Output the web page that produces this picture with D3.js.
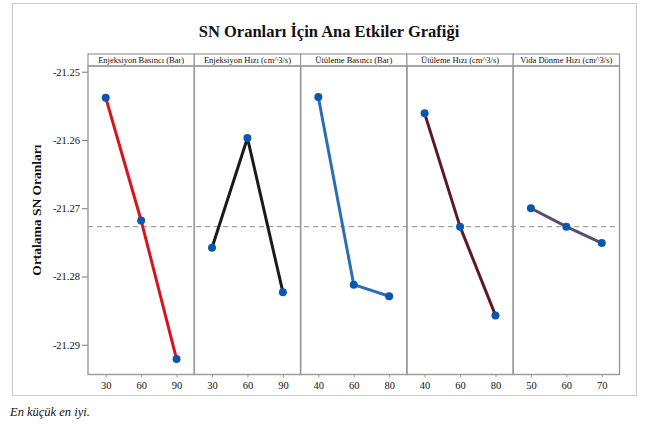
<!DOCTYPE html>
<html>
<head>
<meta charset="utf-8">
<script src="https://cdn.jsdelivr.net/npm/d3@7"></script>
<style>
  html, body { margin: 0; padding: 0; background: #fff; }
  svg { display: block; }
  text { font-family: "Liberation Serif", "Times New Roman", serif; fill: #111; }
</style>
</head>
<body>
<svg id="chart" width="646" height="426"></svg>
<script>
// Main effects plot for S/N ratios (smaller is better)
const factors = [
  "Enjeksiyon Basıncı (Bar)",
  "Enjeksiyon Hızı (cm^3/s)",
  "Ütüleme Basıncı (Bar)",
  "Ütüleme Hızı (cm^3/s)",
  "Vida Dönme Hızı (cm^3/s)"
];
const levels = [
  ["30", "60", "90"],
  ["30", "60", "90"],
  ["40", "60", "80"],
  ["40", "60", "80"],
  ["50", "60", "70"]
];
const snMeans = [
  [-21.2538, -21.2718, -21.2921],
  [-21.2758, -21.2597, -21.2823],
  [-21.2537, -21.2812, -21.2829],
  [-21.2561, -21.2727, -21.2857],
  [-21.2700, -21.2727, -21.2751]
];
const grandMean = -21.2727;
const yTicks = [-21.25, -21.26, -21.27, -21.28, -21.29];
const lineColors = ["#d8141b", "#1b1b1b", "#2c6db8", "#5e1a22", "#5a4c6c"];
const pointColor = "#0b57ad";

const svg = d3.select("#chart");

// outer frame
svg.append("rect")
  .attr("x", 12.5).attr("y", 3.5).attr("width", 624).attr("height", 392)
  .attr("fill", "none").attr("stroke", "#c8c8c8").attr("stroke-width", 1);

// title
svg.append("text")
  .attr("x", 329).attr("y", 37)
  .attr("text-anchor", "middle")
  .style("font-size", "16.5px").style("font-weight", "bold")
  .text("SN Oranları İçin Ana Etkiler Grafiği");

const plotLeft = 88, plotRight = 619.5;
const plotTop = 66, plotBottom = 374.5, headerTop = 54;

const y = d3.scaleLinear()
  .domain([-21.29436, -21.24916])
  .range([plotBottom, plotTop]);

const panel = d3.scaleBand()
  .domain(d3.range(factors.length))
  .range([plotLeft, plotRight])
  .paddingInner(0).paddingOuter(0);

const pw = panel.bandwidth();

// y axis
const yAxis = svg.append("g")
  .attr("transform", `translate(${plotLeft},0)`)
  .call(d3.axisLeft(y).tickValues(yTicks).tickSize(6).tickPadding(2)
    .tickFormat(d => d.toFixed(2)));
yAxis.attr("font-family", null);
yAxis.select(".domain").remove();
yAxis.selectAll(".tick line").attr("stroke", "#777");
yAxis.selectAll(".tick text")
  .style("font-family", "'Liberation Serif', serif")
  .style("font-size", "10.5px").attr("fill", "#222");

// y axis title
svg.append("text")
  .attr("transform", `translate(41,210) rotate(-90)`)
  .attr("text-anchor", "middle")
  .style("font-size", "13.5px").style("font-weight", "bold")
  .text("Ortalama SN Oranları");

// grand mean reference line across all panels
svg.append("line")
  .attr("x1", plotLeft).attr("x2", plotRight)
  .attr("y1", y(grandMean)).attr("y2", y(grandMean))
  .attr("stroke", "#8c8c8c").attr("stroke-width", 1)
  .attr("stroke-dasharray", "5,4");

factors.forEach((name, i) => {
  const x0 = panel(i);
  const g = svg.append("g").attr("transform", `translate(${x0},0)`);

  const x = d3.scalePoint().domain(levels[i]).range([0, pw]).padding(0.5);

  // header strip
  g.append("rect")
    .attr("x", 0).attr("y", headerTop).attr("width", pw).attr("height", plotTop - headerTop)
    .attr("fill", "#fff").attr("stroke", "#999").attr("stroke-width", 1.2);
  g.append("text")
    .attr("x", pw / 2).attr("y", plotTop - 3)
    .attr("text-anchor", "middle")
    .style("font-size", "8.5px").attr("fill", "#222")
    .text(name);

  // panel box
  g.append("rect")
    .attr("x", 0).attr("y", plotTop).attr("width", pw).attr("height", plotBottom - plotTop)
    .attr("fill", "none").attr("stroke", "#999").attr("stroke-width", 1.4);

  // x axis
  const xAxis = g.append("g")
    .attr("transform", `translate(0,${plotBottom})`)
    .call(d3.axisBottom(x).tickSize(3).tickPadding(4));
  xAxis.attr("font-family", null);
  xAxis.select(".domain").remove();
  xAxis.selectAll(".tick line").attr("stroke", "#999");
  xAxis.selectAll(".tick text")
    .style("font-family", "'Liberation Serif', serif")
    .style("font-size", "10.5px").attr("fill", "#222");

  const pts = levels[i].map((lv, j) => ({ lv, v: snMeans[i][j] }));

  g.append("path")
    .datum(pts)
    .attr("fill", "none")
    .attr("stroke", lineColors[i])
    .attr("stroke-width", 3)
    .attr("stroke-linejoin", "round")
    .attr("d", d3.line().x(d => x(d.lv)).y(d => y(d.v)));

  g.selectAll("circle")
    .data(pts)
    .join("circle")
    .attr("cx", d => x(d.lv))
    .attr("cy", d => y(d.v))
    .attr("r", 4)
    .attr("fill", pointColor);
});

// footnote
svg.append("text")
  .attr("x", 10).attr("y", 416)
  .style("font-size", "12.5px").style("font-style", "italic").attr("fill", "#222")
  .text("En küçük en iyi.");
</script>
</body>
</html>
